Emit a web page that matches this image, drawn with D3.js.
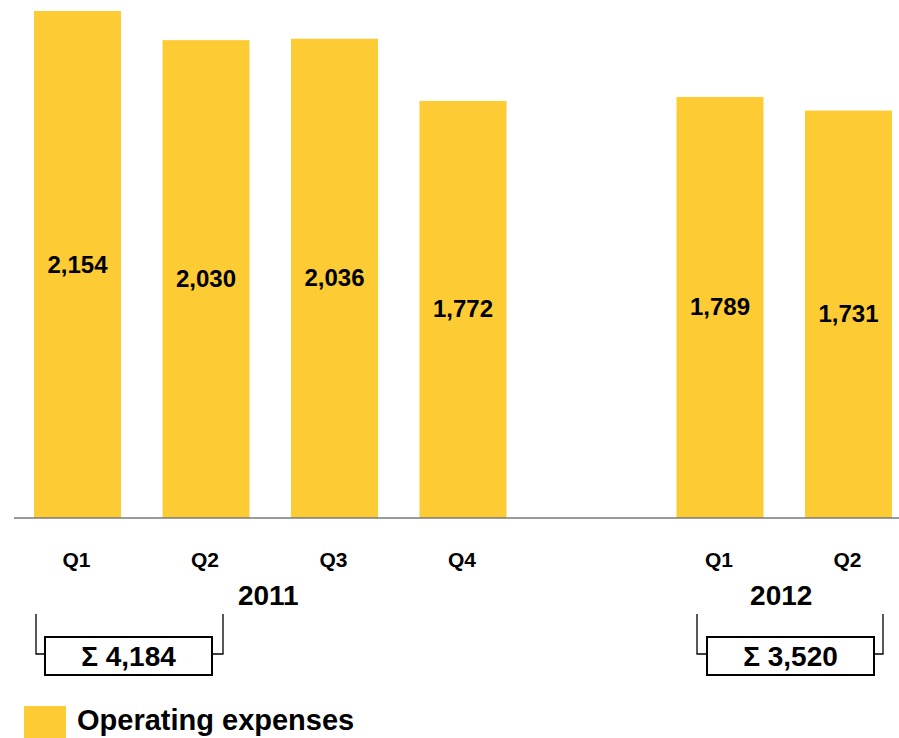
<!DOCTYPE html>
<html>
<head>
<meta charset="utf-8">
<script src="https://cdn.jsdelivr.net/npm/d3@7"></script>
<style>
  html, body { margin: 0; padding: 0; background: #fff; }
  svg { display: block; font-family: "Liberation Sans", Arial, sans-serif; font-weight: bold; }
</style>
</head>
<body>
<svg id="chart" width="899" height="738"></svg>
<script>
// Quarterly operating expenses
const quarters = ["Q1", "Q2", "Q3", "Q4", "Q1", "Q2"];
const years    = ["2011", "2011", "2011", "2011", "2012", "2012"];
const values   = [2154, 2030, 2036, 1772, 1789, 1731];
const yearLabels = ["2011", "2012"];
const seriesName = "Operating expenses";

const barColor = "#FDCB33";
const svg = d3.select("#chart");

// slot keys: one empty slot separates the two years
const slots = ["2011-Q1", "2011-Q2", "2011-Q3", "2011-Q4", "gap", "2012-Q1", "2012-Q2"];
const keyOf = i => years[i] + "-" + quarters[i];

const baseY = 518;
const x = d3.scaleBand().domain(slots).range([34, 892]).paddingInner(41.5 / 128.5).paddingOuter(0);
const y = d3.scaleLinear().domain([0, 2154]).range([baseY, 11]);

const fmt = d3.format(",");

// bars
svg.append("g").selectAll("rect")
  .data(values)
  .join("rect")
  .attr("x", (d, i) => x(keyOf(i)))
  .attr("width", x.bandwidth())
  .attr("y", d => y(d))
  .attr("height", d => y(0) - y(d))
  .attr("fill", barColor);

// value labels centred inside the bars
svg.append("g").selectAll("text")
  .data(values)
  .join("text")
  .attr("x", (d, i) => x(keyOf(i)) + x.bandwidth() / 2)
  .attr("y", d => (y(d) + y(0)) / 2 + 8)
  .attr("text-anchor", "middle")
  .attr("font-size", 24)
  .attr("fill", "#000")
  .text(d => fmt(d));

// baseline
svg.append("line")
  .attr("x1", 14).attr("x2", 899)
  .attr("y1", baseY).attr("y2", baseY)
  .attr("stroke", "#7a7a7a").attr("stroke-width", 1.5);

// quarter labels
svg.append("g").selectAll("text")
  .data(quarters)
  .join("text")
  .attr("x", (d, i) => x(keyOf(i)) + x.bandwidth() / 2 - 1)
  .attr("y", 567)
  .attr("text-anchor", "middle")
  .attr("font-size", 21)
  .text(d => d);

// year labels, centred under each year's bars
yearLabels.forEach(yr => {
  const idx = years.map((v, i) => v === yr ? i : -1).filter(i => i >= 0);
  const cx = d3.mean(idx, i => x(keyOf(i)) + x.bandwidth() / 2);
  svg.append("text")
    .attr("x", yr === "2011" ? cx - 2 : cx - 3)
    .attr("y", 605)
    .attr("text-anchor", "middle")
    .attr("font-size", 28)
    .text(yr);
});

// half-year totals (Q1 + Q2 of each year) in bracketed boxes
const brackets = [
  { year: "2011", left: 36, right: 223, boxL: 45, boxR: 212 },
  { year: "2012", left: 697, right: 883, boxL: 707, boxR: 874 }
];
brackets.forEach(b => {
  const total = d3.sum(values.filter((v, i) => years[i] === b.year && (quarters[i] === "Q1" || quarters[i] === "Q2")));
  const g = svg.append("g").attr("fill", "none").attr("stroke", "#000").attr("stroke-width", 1.3);
  g.append("path").attr("d", `M${b.left},614V654H${b.boxL}`);
  g.append("path").attr("d", `M${b.right},614V654H${b.boxR}`);
  g.append("rect").attr("x", b.boxL).attr("y", 637).attr("width", b.boxR - b.boxL).attr("height", 38).attr("stroke-width", 2);
  svg.append("text")
    .attr("x", (b.boxL + b.boxR) / 2)
    .attr("y", 666)
    .attr("text-anchor", "middle")
    .attr("font-size", 28)
    .text("Σ " + fmt(total));
});

// legend
svg.append("rect").attr("x", 24).attr("y", 706).attr("width", 42).attr("height", 32).attr("fill", barColor);
svg.append("text").attr("x", 77).attr("y", 730).attr("font-size", 29).text(seriesName);
</script>
</body>
</html>
